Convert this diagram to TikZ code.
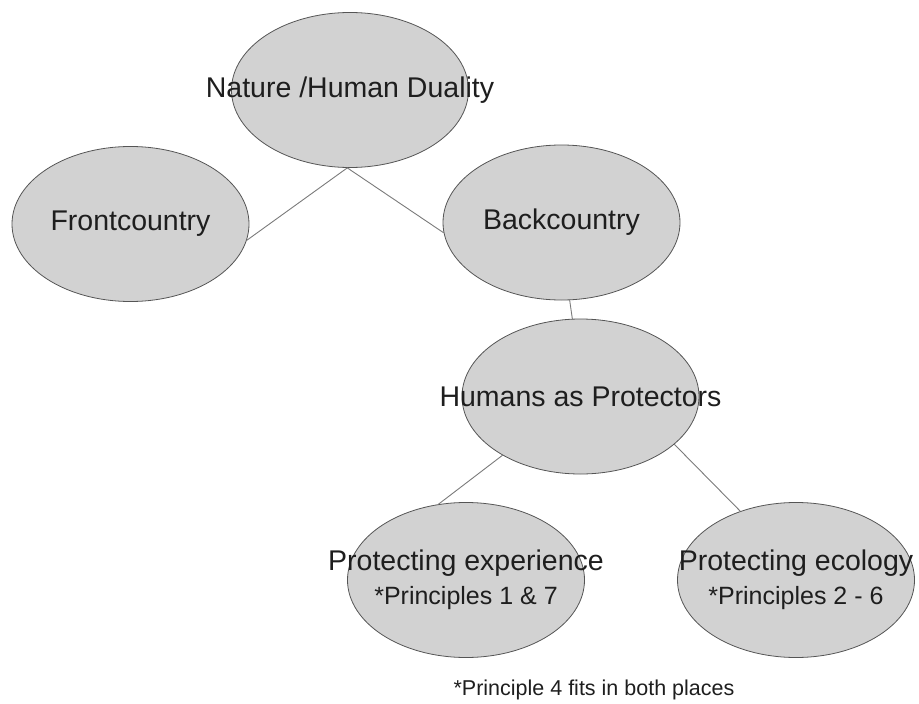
\documentclass[tikz,border=0pt]{standalone}
\usepackage{fontspec}
\setmainfont{Liberation Sans}
\usetikzlibrary{shapes.geometric}

\definecolor{blobfill}{HTML}{D2D2D2}
\definecolor{blobline}{HTML}{555555}
\definecolor{linkgray}{HTML}{7A7A7A}
\definecolor{inkgray}{HTML}{1E1E1E}

\begin{document}
\begin{tikzpicture}[x=1pt,y=-1pt,line cap=round,
    blob/.style={ellipse,draw=blobline,fill=blobfill,line width=.8pt,
      minimum width=237pt,minimum height=155pt,inner sep=0pt},
    txt/.style={text=inkgray,align=center,font=\fontsize{28.5}{34}\selectfont},
    link/.style={draw=linkgray,line width=.9pt}]
  \useasboundingbox (0,0) rectangle (919,704);

  \node[blob,label={[txt]center:Nature /Human Duality}] (nat) at (350,90) {};
  \node[blob,label={[txt]center:Frontcountry}] (front) at (130.5,224) {};
  \node[blob,label={[txt]center:Backcountry}] (back) at (561.5,222.5) {};
  \node[blob,label={[txt]center:Humans as Protectors}] (hum) at (580.5,396.5) {};
  \node[blob,label={[txt]center:Protecting experience\\
    \fontsize{25}{34}\selectfont *Principles 1 \& 7}] (exper) at (466,580) {};
  \node[blob,label={[txt]center:Protecting ecology\\
    \fontsize{25}{34}\selectfont *Principles 2 - 6}] (ecol) at (796,580) {};

  \draw[link] (nat.-92) -- (front.-8);
  \draw[link] (nat.-92) -- (back.185);
  \draw[link] (back.-84) -- (hum.96);
  \draw[link] (hum.217) -- (exper.110);
  \draw[link] (hum.-27) -- (ecol.129);

  \node[text=inkgray,font=\fontsize{21.5}{26}\selectfont] (note) at (594,690)
    {*Principle 4 fits in both places};
\end{tikzpicture}
\end{document}
